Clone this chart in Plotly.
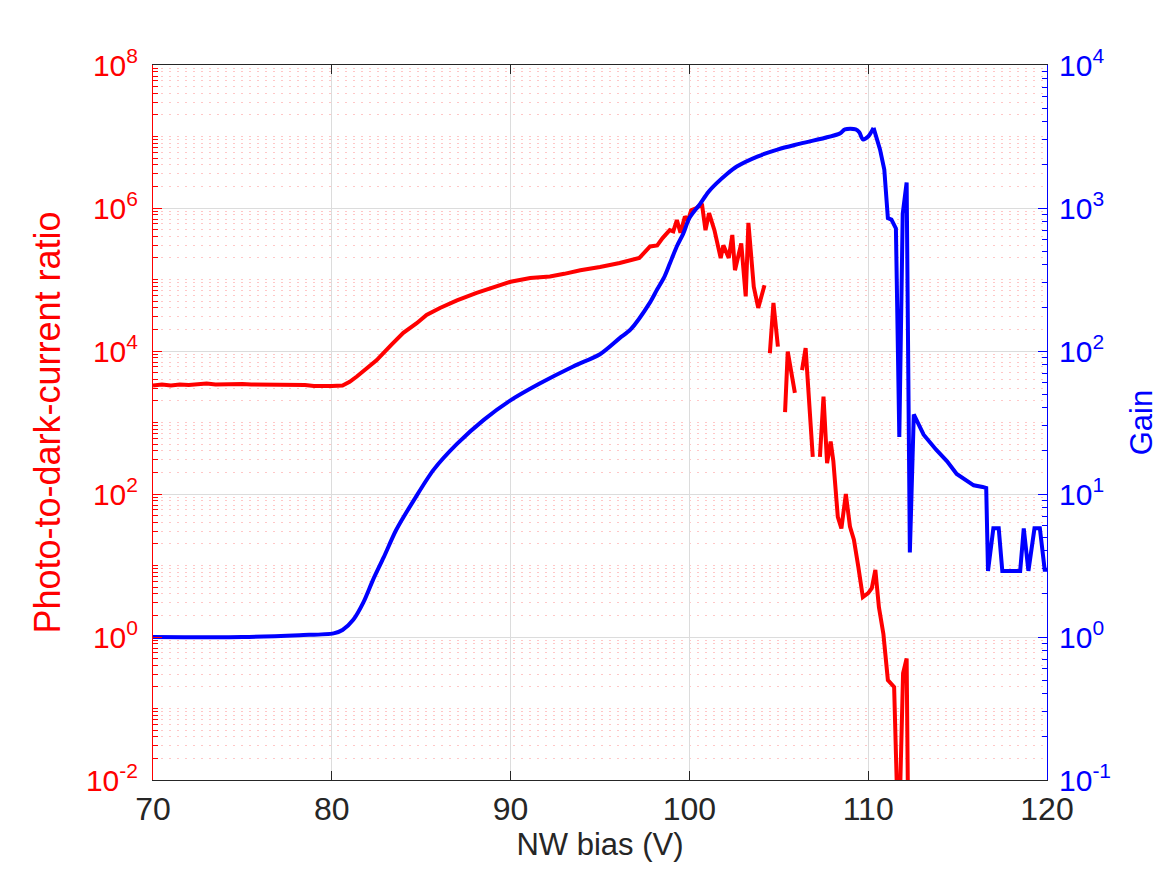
import plotly.graph_objects as go

# photo-to-dark-current ratio (left axis, red); None = gap in the measured curve
bias_red = [70.0, 70.5, 71.0, 71.5, 72.0, 72.5, 73.0, 73.5, 74.0, 74.5, 75.0, 75.5,
            76.0, 76.5, 77.0, 77.5, 78.0, 78.5, 79.0, 79.5, 80.0, 80.6, 81.0, 81.4,
            82.0, 82.5, 83.3, 84.0, 84.75, 85.3, 86.05, 87.0, 88.1, 89.2, 90.0, 91.1,
            92.2, 93.0, 93.9, 95.0, 96.1, 97.2, 97.8, 98.2, 98.5, 98.9, 99.1, 99.3,
            99.5, 99.75, 99.93, 100.1, 100.4, 100.7, 100.9, 101.1, 101.4, 101.75, 101.9,
            102.2, 102.4, 102.55, 102.9, 103.15, 103.3, 103.6, 103.85, 104.2, 104.35,
            104.5, 104.7, 104.95, 105.15, 105.35, 105.5, 105.9, 106.1, 106.3, 106.5,
            106.9, 107.1, 107.3, 107.5, 107.7, 107.9, 108.05, 108.3, 108.5, 108.75,
            108.98, 109.2, 109.45, 109.7, 110.0, 110.2, 110.4, 110.6, 110.85, 111.1,
            111.45, 111.7, 111.95, 112.15, 112.25]
ratio = [3.3e3, 3.4e3, 3.3e3, 3.4e3, 3.35e3, 3.4e3, 3.5e3, 3.4e3, 3.45e3, 3.5e3, 3.45e3, 3.4e3,
         3.4e3, 3.35e3, 3.4e3, 3.3e3, 3.3e3, 3.35e3, 3.25e3, 3.2e3, 3.25e3, 3.3e3, 3.7e3, 4.4e3,
         5.8e3, 7.4e3, 1.2e4, 1.8e4, 2.45e4, 3.2e4, 4.0e4, 5.1e4, 6.5e4, 8.1e4, 9.3e4, 1.05e5,
         1.1e5, 1.2e5, 1.35e5, 1.5e5, 1.7e5, 2.0e5, 2.9e5, 3.0e5, 3.8e5, 4.9e5, 4.7e5, 6.8e5,
         4.5e5, 7.6e5, 6.8e5, 9.3e5, 1.0e6, 1.15e6, 4.9e5, 8.5e5, 4.9e5, 2.0e5, 3.0e5,
         2.0e5, 4.2e5, 1.35e5, 3.2e5, 5.8e4, 6.2e5, 7.9e4, 4.0e4, 8.3e4, None,
         9.3e3, 4.7e4, 1.15e4, None, 1.4e3, 9.8e3, 2.6e3, None, 5.4e3, 1.1e4,
         3.3e2, None, 3.3e2, 2.3e3, 2.7e2, 5.4e2, 2.9e2, 48, 33, 100,
         35, 23, 9.5, 3.6, 4.1, 4.8, 8.7, 2.6, 1.1, 0.25,
         0.2, 1e-3, 0.31, 0.5, 1e-3]

# gain (right axis, blue): smooth rise, then the noisy breakdown region
bias_blue = [70.0, 75.0, 78.2, 80.1, 80.6, 81.2, 81.76, 82.3, 82.9, 83.6, 84.6, 85.7,
             87.0, 88.5, 89.97, 91.6, 93.5, 95.0, 96.1, 96.7, 97.8, 98.2, 98.6, 98.9,
             99.3, 99.65, 100.0, 100.6, 101.05, 101.5, 102.1, 102.65, 103.8, 104.97,
             106.2, 108.4, 108.7, 109.3, 109.5, 109.7, 110.0, 110.3, 110.66, 110.9,
             111.1, 111.3, 111.55, 111.74, 111.93, 112.15, 112.33, 112.55, 113.1,
             113.8, 114.4, 114.95, 115.9, 116.4, 116.6, 116.7, 117.0, 117.3, 117.5,
             118.5, 118.7, 118.96, 119.3, 119.6, 119.87, 120.0]
gain = [1.0, 1.0, 1.03, 1.06, 1.12, 1.32, 1.74, 2.5, 3.6, 5.6, 9.1, 14.8,
        22.4, 33, 45, 59, 78, 95, 123, 141, 219, 270, 330, 407,
        540, 660, 850, 1070, 1290, 1480, 1730, 1950, 2290, 2570,
        2820, 3310, 3550, 3550, 3390, 3020, 3160, 3630, 2570, 1860,
        850, 830, 720, 25, 910, 1510, 3.9, 36, 26,
        20.4, 17, 13.8, 11.5, 11.2, 11.0, 2.9, 5.75, 5.75, 2.9,
        2.9, 5.75, 2.9, 5.75, 5.75, 2.95, 2.95]
split = bias_blue.index(110.3)  # smooth part drawn as spline, rest straight

left_vals = [1e-2, 1e0, 1e2, 1e4, 1e6, 1e8]
left_text = ["10<sup>-2</sup>", "10<sup>0</sup>", "10<sup>2</sup>",
             "10<sup>4</sup>", "10<sup>6</sup>", "10<sup>8</sup>"]
right_vals = [1e-1, 1e0, 1e1, 1e2, 1e3, 1e4]
right_text = ["10<sup>-1</sup>", "10<sup>0</sup>", "10<sup>1</sup>",
              "10<sup>2</sup>", "10<sup>3</sup>", "10<sup>4</sup>"]

minor_left = [m * 10.0 ** k for k in range(-2, 8) for m in range(1, 10)
              if not (m == 1 and k % 2 == 0)]
minor_right = [m * 10.0 ** k for k in range(-1, 4) for m in range(2, 10)]

RED = "#ff0000"
BLUE = "#0000ff"
DARK = "#262626"
FONT = "Liberation Sans, Arial, Helvetica, sans-serif"

fig = go.Figure()
fig.add_trace(go.Scatter(x=bias_red, y=ratio, mode="lines",
                         line=dict(color=RED, width=4), connectgaps=False, yaxis="y"))
fig.add_trace(go.Scatter(x=bias_blue[:split + 1], y=gain[:split + 1], mode="lines",
                         line=dict(color=BLUE, width=4, shape="spline", smoothing=0.8),
                         yaxis="y2"))
fig.add_trace(go.Scatter(x=bias_blue[split:], y=gain[split:], mode="lines",
                         line=dict(color=BLUE, width=4), yaxis="y2"))

# page body adds an 8px offset, so the figure is a bit smaller than the window
fig.update_layout(
    width=1151,
    height=859,
    margin=dict(l=145, r=112, t=57, b=87),
    plot_bgcolor="white",
    paper_bgcolor="white",
    showlegend=False,
    font=dict(family=FONT),
    xaxis=dict(
        range=[70, 120], tick0=70, dtick=10, automargin=False,
        ticks="inside", ticklen=9, tickcolor=DARK,
        showline=True, linecolor=DARK, linewidth=1, mirror="ticks",
        showgrid=True, gridcolor="#dcdcdc", gridwidth=1, zeroline=False,
        tickfont=dict(size=32, color=DARK), ticklabelstandoff=1,
        title=dict(text="NW bias (V)", font=dict(size=31, color=DARK), standoff=2),
    ),
    yaxis=dict(
        type="log", range=[-2, 8], automargin=False,
        tickmode="array", tickvals=left_vals, ticktext=left_text,
        ticks="inside", ticklen=9, tickcolor=RED,
        showline=True, linecolor=RED, linewidth=1,
        showgrid=True, gridcolor="#dcdcdc", gridwidth=1, zeroline=False,
        minor=dict(tickmode="array", tickvals=minor_left, ticks="inside", ticklen=5,
                   tickcolor=RED, showgrid=True, gridcolor="rgba(255,0,0,0.22)",
                   griddash="2px,6px", gridwidth=1),
        tickfont=dict(size=30, color=RED), ticklabelstandoff=8,
        title=dict(text="Photo-to-dark-current ratio", font=dict(size=36, color=RED), standoff=14),
    ),
    yaxis2=dict(
        type="log", range=[-1, 4], overlaying="y", side="right", automargin=False,
        tickmode="array", tickvals=right_vals, ticktext=right_text,
        ticks="inside", ticklen=9, tickcolor=BLUE,
        showline=True, linecolor=BLUE, linewidth=1,
        showgrid=False, zeroline=False,
        minor=dict(tickmode="array", tickvals=minor_right, ticks="inside", ticklen=5,
                   tickcolor=BLUE, showgrid=False),
        tickfont=dict(size=30, color=BLUE), ticklabelstandoff=5,
        title=dict(text="Gain", font=dict(size=31, color=BLUE), standoff=22),
    ),
)

fig.write_html("out.html")
